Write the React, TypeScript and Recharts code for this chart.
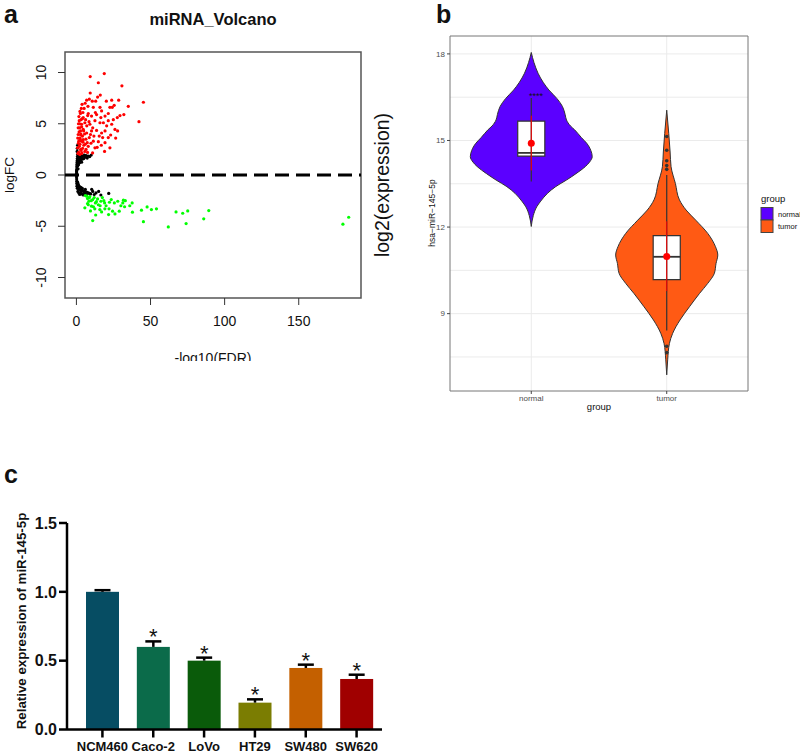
import React from 'react';
import {
  ScatterChart, Scatter, ComposedChart, Area, BarChart, Bar, XAxis, YAxis,
  CartesianGrid, ReferenceLine, ReferenceArea, ReferenceDot,
} from 'recharts';

const FONT = '"Liberation Sans", Arial, Helvetica, sans-serif';

// ---------- panel a: volcano plot (x = -log10(FDR), y = logFC)
const upRegulated: [number, number][] = [
  [9.3, 9.6], [18.8, 9.9], [14.8, 9.0], [30.7, 8.7], [9.3, 8.0], [16.1, 7.8], [14.3, 7.6], [6.9, 7.3],
  [10.7, 7.2], [13.0, 7.2], [20.2, 7.2], [23.8, 7.3], [45.2, 7.1], [35.0, 6.7], [8.7, 7.4], [2.4, 6.2],
  [7.8, 6.7], [11.4, 6.6], [15.9, 6.6], [22.6, 6.6], [24.2, 6.6], [29.4, 5.8], [42.2, 5.2], [4.6, 5.6],
  [8.0, 6.0], [10.2, 5.75], [13.6, 5.9], [17.0, 6.25], [19.3, 5.75], [21.5, 6.0], [24.9, 5.4], [27.6, 5.6],
  [1.9, 5.3], [3.5, 4.95], [5.7, 5.1], [9.1, 4.95], [12.5, 5.3], [15.9, 5.1], [20.4, 4.8], [23.8, 4.95],
  [27.8, 4.3], [1.2, 4.6], [2.8, 4.3], [4.6, 4.45], [6.9, 4.1], [10.2, 4.3], [13.6, 4.35], [17.0, 4.1],
  [19.3, 4.3], [23.1, 3.9], [2.4, 3.6], [4.1, 3.8], [6.4, 3.5], [8.7, 3.65], [11.4, 3.3], [14.8, 3.25],
  [19.3, 3.15], [2.4, 3.0], [5.0, 2.9], [8.0, 2.8], [12.5, 2.65], [2.8, 2.5], [5.7, 2.3], [10.9, 2.15],
  [3.7, 2.15], [1.2, 3.95], [1.6, 3.3], [0.8, 2.65], [3.3, 3.3], [4.6, 3.45], [7.3, 3.15], [9.5, 3.95],
  [11.8, 3.8], [15.4, 3.8], [17.7, 3.65], [21.5, 3.65], [26.0, 4.45], [18.2, 5.1], [21.5, 5.3], [22.6, 2.65],
  [19.0, 2.3], [1.5, 2.2], [2.0, 2.8], [2.5, 3.5], [3.0, 4.0], [3.5, 4.7], [2.2, 5.0], [4.0, 5.5],
  [1.8, 4.2], [3.2, 2.4], [4.5, 3.2], [5.5, 4.0], [2.7, 6.0], [5.2, 6.5], [3.8, 6.9], [6.2, 5.4],
  [7.0, 4.8], [1.3, 3.1], [2.9, 3.9], [4.2, 2.6], [6.5, 2.5], [1.0, 2.1], [2.3, 2.0], [3.6, 2.1],
  [1.7, 5.7], [3.1, 5.4], [4.9, 4.3], [6.0, 3.0], [7.5, 2.2], [8.5, 5.2], [9.8, 3.1], [11.0, 4.6],
  [12.8, 6.1], [14.0, 2.7], [16.5, 5.6], [25.5, 6.8], [28.5, 7.3], [32.0, 5.9], [26.5, 3.6], [16.8, 2.9],
  [0.9, 3.6], [2.1, 4.6], [1.4, 5.0], [3.3, 6.5], [4.4, 6.1], [5.9, 7.0], [7.6, 5.8],
];

const downRegulated: [number, number][] = [
  [6.9, -2.07], [8.7, -2.23], [11.0, -2.4], [14.3, -2.33], [16.5, -2.56], [19.0, -2.72], [22.3, -2.66],
  [25.6, -2.72], [27.9, -2.56], [31.7, -2.46], [31.3, -2.72], [37.6, -2.72], [5.7, -3.2], [10.2, -3.04],
  [12.4, -3.3], [15.8, -3.37], [19.2, -3.3], [24.4, -3.53], [28.9, -3.53], [37.8, -3.63], [43.9, -3.43],
  [47.7, -3.11], [50.6, -3.37], [54.0, -3.3], [11.0, -4.45], [21.7, -3.86], [45.2, -4.55], [8.4, -2.56],
  [12.8, -2.72], [7.5, -2.79], [62.0, -5.07], [67.2, -3.6], [71.7, -3.73], [74.0, -4.74], [75.1, -3.5],
  [85.9, -4.28], [89.3, -3.47], [179.8, -4.8], [183.7, -4.12], [6.0, -2.0], [7.5, -2.3], [9.0, -2.1],
  [10.0, -2.5], [12.0, -2.2], [13.5, -2.6], [8.0, -2.9], [14.8, -2.9], [17.5, -2.2], [18.5, -2.5],
  [20.0, -3.0], [9.5, -3.5], [11.5, -3.1], [16.0, -3.0], [22.0, -3.3], [26.0, -3.8], [23.5, -2.4],
  [30.0, -3.0], [33.0, -2.5], [32.5, -3.1], [36.0, -3.0], [17.0, -3.6], [13.0, -3.9],
];

const notSignificant: [number, number][] = [
  [0.1, 0.05], [0.15, 0.3], [0.2, 0.5], [0.25, 0.8], [0.3, 1.0], [0.4, 1.2], [0.5, 1.4], [0.6, 1.6],
  [0.7, 1.8], [0.8, 2.0], [0.5, 2.3], [0.6, 2.6], [0.8, 2.9], [1.0, 1.1], [1.2, 1.5], [1.5, 1.7],
  [1.8, 1.3], [2.0, 1.9], [2.3, 1.6], [2.6, 1.8], [3.0, 1.5], [3.3, 1.9], [3.7, 1.7], [4.1, 1.55],
  [4.5, 1.85], [5.0, 1.6], [5.4, 1.95], [6.0, 1.75], [6.6, 1.9], [7.3, 1.65], [8.0, 1.85], [9.0, 1.8],
  [10.0, 1.95], [1.1, 0.6], [0.9, 0.9], [1.4, 1.0], [2.1, 1.2], [2.7, 1.4], [3.5, 1.25], [0.35, 0.6],
  [0.05, -0.05], [0.1, -0.2], [0.12, 0.15], [0.08, 0.4], [0.18, -0.4],
  [0.25, -0.6], [0.35, -0.8], [0.5, -0.95], [0.7, -1.05], [0.9, -1.15], [1.2, -1.25], [1.5, -1.3],
  [1.9, -1.35], [2.3, -1.4], [2.8, -1.45], [3.3, -1.5], [3.8, -1.5], [4.4, -1.55], [5.0, -1.6],
  [5.7, -1.6], [6.4, -1.65], [7.2, -1.7], [8.0, -1.75], [8.8, -1.8], [9.6, -1.85], [10.3, -1.4],
  [11.0, -1.6], [12.0, -1.9], [13.2, -1.75], [15.0, -1.6], [16.5, -1.95], [21.8, -1.8], [0.6, -1.3],
  [1.0, -1.6], [1.6, -1.75], [2.2, -1.9], [2.9, -1.7], [3.6, -1.85], [4.6, -1.95], [5.5, -1.8],
  [6.8, -1.95], [0.4, -1.1], [0.8, -0.7], [1.3, -0.9], [2.0, -1.1], [3.0, -1.2], [4.0, -1.3], [6.0, -1.4],
];

const volcanoXTicks = [0, 50, 100, 150];
const volcanoYTicks = [-10, -5, 0, 5, 10];

// ---------- panel b: violin + box plot of hsa-miR-145-5p
const groups = ['normal', 'tumor'];
const normalViolinY = [12.02, 12.4, 12.7, 12.9, 13.17, 13.4, 13.63, 13.85, 14.1, 14.25, 14.44, 14.65, 14.9,
  15.1, 15.37, 15.5, 15.71, 15.9, 16.18, 16.45, 16.75, 17.0, 17.33, 17.7, 18.05];
const normalViolinW = [0, 0.015, 0.04, 0.07, 0.12, 0.18, 0.26, 0.33, 0.4, 0.43, 0.45, 0.44, 0.41,
  0.37, 0.32, 0.29, 0.26, 0.25, 0.23, 0.19, 0.13, 0.09, 0.05, 0.02, 0];
const tumorViolinY = [6.88, 7.4, 7.97, 8.32, 8.78, 9.24, 9.7, 10.05, 10.4, 10.74, 11.03, 11.32, 11.78,
  12.24, 12.59, 12.94, 13.51, 14.09, 14.6, 15.24, 16.05];
const tumorViolinW = [0, 0.007, 0.02, 0.044, 0.098, 0.168, 0.242, 0.303, 0.352, 0.364, 0.377, 0.36, 0.303,
  0.214, 0.143, 0.094, 0.064, 0.032, 0.025, 0.015, 0];
const boxQ1 = [14.46, 10.18];
const boxMedian = [14.57, 10.97];
const boxQ3 = [15.67, 11.7];
const whiskerLow = [13.58, 8.42];
const whiskerHigh = [16.47, 13.8];
const groupMean = [14.9, 10.98];
const meanLow = [13.96, 9.78];
const meanHigh = [15.86, 12.2];
const tumorOutliers = [15.14, 14.66, 14.3, 14.13, 14.0, 7.87, 7.65];
const violinYTicks = [9, 12, 15, 18];
const violinGrid = [7.5, 9, 10.5, 12, 13.5, 15, 16.5, 18];

// ---------- panel c: qPCR in cell lines
const cellLines = ['NCM460', 'Caco-2', 'LoVo', 'HT29', 'SW480', 'SW620'];
const relExpression = [1.0, 0.6, 0.5, 0.195, 0.447, 0.367];
const expressionErr = [0.012, 0.04, 0.022, 0.024, 0.024, 0.031];
const significant = [false, true, true, true, true, true];
const barColors = ['#064d63', '#0b6b4a', '#0a5b0a', '#7b7d02', '#c46000', '#a00000'];
const barYTicks = [0, 0.5, 1.0, 1.5];

const toPoints = (arr: [number, number][]) => arr.map(([x, y]) => ({ x, y }));

const violinData = (ys: number[], ws: number[], center: number) =>
  ys.map((y, i) => ({ y, band: [center - ws[i], center + ws[i]] }));

const barData = cellLines.map((name, i) => ({
  name,
  value: relExpression[i],
  err: expressionErr[i],
  star: significant[i],
  color: barColors[i],
}));

const BOX_HALF = 0.1;

function dot(color: string) {
  return (p: any) => <circle cx={p.cx} cy={p.cy} r={1.6} fill={color} />;
}

function VolcanoYTick({ x, y, payload }: any) {
  return (
    <text x={x} y={y} transform={`rotate(-90, ${x}, ${y})`} textAnchor="middle"
      fontSize={14} fill="#111" fontFamily={FONT}>
      {payload.value}
    </text>
  );
}

function BarWithError(props: any) {
  const { x, y, width, height, payload } = props;
  const perUnit = height / payload.value;
  const top = y - payload.err * perUnit;
  const cx = x + width / 2;
  return (
    <g>
      <rect x={x} y={y} width={width} height={height} fill={payload.color} />
      <line x1={cx} x2={cx} y1={y} y2={top} stroke="#000" strokeWidth={2.5} />
      <line x1={cx - 8} x2={cx + 8} y1={top} y2={top} stroke="#000" strokeWidth={2.5} />
      {payload.star && (
        <text x={cx} y={top + 3} textAnchor="middle" fontSize={22} fontFamily={FONT} fill="#111">*</text>
      )}
    </g>
  );
}

function VolcanoPanel() {
  return (
    <ScatterChart width={380} height={361} margin={{ top: 52, right: 19, bottom: 23, left: 0 }}>
      <XAxis type="number" dataKey="x" domain={[-7.7, 192]} ticks={volcanoXTicks} interval={0}
        allowDataOverflow axisLine={false} tickSize={7} tickMargin={11} height={40}
        tickLine={{ stroke: '#333' }} tick={{ fontSize: 14, fill: '#111', fontFamily: FONT }} />
      <YAxis type="number" dataKey="y" domain={[-12, 12]} ticks={volcanoYTicks} interval={0}
        allowDataOverflow axisLine={false} tickSize={7} tickMargin={12} width={65}
        tickLine={{ stroke: '#333' }} tick={<VolcanoYTick />} />
      <ReferenceArea x1={-7.7} x2={192} y1={-12} y2={12} fill="#fff" fillOpacity={0}
        stroke="#555" strokeWidth={1.5} ifOverflow="visible" />
      <Scatter data={toPoints(notSignificant)} shape={dot('#000')} isAnimationActive={false} />
      <Scatter data={toPoints(upRegulated)} shape={dot('#ff0000')} isAnimationActive={false} />
      <Scatter data={toPoints(downRegulated)} shape={dot('#00ff00')} isAnimationActive={false} />
      <ReferenceLine y={0} stroke="#000" strokeWidth={3} strokeDasharray="14 7" />
    </ScatterChart>
  );
}

function ViolinPanel() {
  const fills = ['#5b00ff', '#ff5a14'];
  const violins = [
    violinData(normalViolinY, normalViolinW, 1),
    violinData(tumorViolinY, tumorViolinW, 2),
  ];
  return (
    <ComposedChart layout="vertical" width={420} height={420}
      margin={{ top: 36, right: 52, bottom: 9, left: 0 }}>
      <CartesianGrid horizontalValues={violinGrid} verticalValues={[1, 2]} stroke="#ebebeb" strokeWidth={1} />
      <XAxis type="number" domain={[0.4, 2.6]} ticks={[1, 2]} interval={0} allowDataOverflow
        tickFormatter={(v: number) => groups[v - 1]} height={20} tickSize={3} tickMargin={1}
        axisLine={false} tickLine={{ stroke: '#444' }}
        tick={{ fontSize: 8, fill: '#4d4d4d', fontFamily: FONT }} />
      <YAxis type="number" dataKey="y" domain={[6.32, 18.62]} ticks={violinYTicks} interval={0}
        reversed allowDataOverflow width={70} tickSize={3} tickMargin={2} axisLine={false}
        tickLine={{ stroke: '#444' }} tick={{ fontSize: 8, fill: '#4d4d4d', fontFamily: FONT }} />
      {violins.map((d, i) => (
        <Area key={groups[i]} data={d} dataKey="band" type="monotone" fill={fills[i]} fillOpacity={1}
          stroke="#333" strokeWidth={1} dot={false} activeDot={false} isAnimationActive={false} />
      ))}
      {groups.map((g, i) => (
        <ReferenceLine key={g + 'w'} segment={[{ x: i + 1, y: whiskerLow[i] }, { x: i + 1, y: whiskerHigh[i] }]}
          stroke="#333" strokeWidth={1.2} />
      ))}
      {groups.map((g, i) => (
        <ReferenceArea key={g + 'b'} x1={i + 1 - BOX_HALF} x2={i + 1 + BOX_HALF} y1={boxQ1[i]} y2={boxQ3[i]}
          fill="#fff" fillOpacity={1} stroke="#333" strokeWidth={1.2} />
      ))}
      {groups.map((g, i) => (
        <ReferenceLine key={g + 'm'} segment={[{ x: i + 1 - BOX_HALF, y: boxMedian[i] }, { x: i + 1 + BOX_HALF, y: boxMedian[i] }]}
          stroke="#333" strokeWidth={1.8} />
      ))}
      {groups.map((g, i) => (
        <ReferenceLine key={g + 'r'} segment={[{ x: i + 1, y: meanLow[i] }, { x: i + 1, y: meanHigh[i] }]}
          stroke="#ff0000" strokeWidth={1} />
      ))}
      {groups.map((g, i) => (
        <ReferenceDot key={g + 'd'} x={i + 1} y={groupMean[i]} r={3.5} fill="#ff0000" stroke="none" />
      ))}
      {tumorOutliers.map((v, i) => (
        <ReferenceDot key={'o' + i} x={2} y={v} r={1.8} fill="#333" stroke="none" />
      ))}
      <ReferenceArea x1={0.4} x2={2.6} y1={6.32} y2={18.62} fill="#fff" fillOpacity={0}
        stroke="#777" strokeWidth={1} ifOverflow="visible" />
    </ComposedChart>
  );
}

function BarPanel() {
  return (
    <BarChart width={400} height={293} data={barData} margin={{ top: 63, right: 18, bottom: 0, left: 0 }}>
      <XAxis dataKey="name" padding={{ left: 10, right: 0 }} height={23.5} interval={0}
        axisLine={{ stroke: '#000', strokeWidth: 2.5 }} tickLine={{ stroke: '#000', strokeWidth: 2.5 }}
        tickSize={8} tickMargin={4}
        tick={{ fontSize: 13, fontWeight: 'bold', fill: '#111', fontFamily: FONT }} />
      <YAxis type="number" domain={[0, 1.5]} ticks={barYTicks} interval={0} width={67}
        tickFormatter={(v: number) => v.toFixed(1)}
        axisLine={{ stroke: '#000', strokeWidth: 2.5 }} tickLine={{ stroke: '#000', strokeWidth: 2.5 }}
        tickSize={8} tickMargin={2}
        tick={{ fontSize: 16, fontWeight: 'bold', fill: '#111', fontFamily: FONT }} />
      <Bar dataKey="value" barSize={33} shape={<BarWithError />} isAnimationActive={false} />
    </BarChart>
  );
}

export default function App() {
  return (
    <div style={{ position: 'absolute', left: 0, top: 0, width: 800, height: 753, background: '#fff', fontFamily: FONT }}>
      <div style={{ position: 'absolute', left: 0, top: 0 }}><VolcanoPanel /></div>
      <div style={{ position: 'absolute', left: 380, top: 0 }}><ViolinPanel /></div>
      <div style={{ position: 'absolute', left: 0, top: 460 }}><BarPanel /></div>
      <svg width={800} height={753} style={{ position: 'absolute', left: 0, top: 0, pointerEvents: 'none' }}
        fontFamily={FONT} fill="#111">
        <defs>
          <clipPath id="clipA"><rect x={0} y={0} width={380} height={361} /></clipPath>
        </defs>
        {/* panel a */}
        <text x={4} y={23} fontSize={25} fontWeight="bold">a</text>
        <text x={213} y={25} textAnchor="middle" fontSize={16.5} fontWeight="bold">miRNA_Volcano</text>
        <text transform="translate(14,175) rotate(-90)" textAnchor="middle" fontSize={13.5}>logFC</text>
        <text x={213} y={363} textAnchor="middle" fontSize={14} clipPath="url(#clipA)">-log10(FDR)</text>
        <text transform="translate(389,185) rotate(-90)" textAnchor="middle" fontSize={19.5}>log2(expression)</text>
        {/* panel b */}
        <text x={436} y={23} fontSize={25} fontWeight="bold">b</text>
        <text x={536} y={99} textAnchor="middle" fontSize={9}>****</text>
        <text transform="translate(435,213) rotate(-90)" textAnchor="middle" fontSize={8.5}>hsa−miR−145−5p</text>
        <text x={599} y={410} textAnchor="middle" fontSize={9.5}>group</text>
        <text x={761} y={202} fontSize={9.5}>group</text>
        <rect x={761} y={207.5} width={12} height={12.5} fill="#5b00ff" stroke="#444" strokeWidth={1} />
        <rect x={761} y={220} width={12} height={12.5} fill="#ff5a14" stroke="#444" strokeWidth={1} />
        <text x={778} y={216.5} fontSize={7.5}>normal</text>
        <text x={778} y={229} fontSize={7.5}>tumor</text>
        {/* panel c */}
        <text x={4} y={483} fontSize={25} fontWeight="bold">c</text>
        <text transform="translate(25.5,621) rotate(-90)" textAnchor="middle" fontSize={13.3} fontWeight="bold">
          Relative expression of miR-145-5p
        </text>
      </svg>
    </div>
  );
}
